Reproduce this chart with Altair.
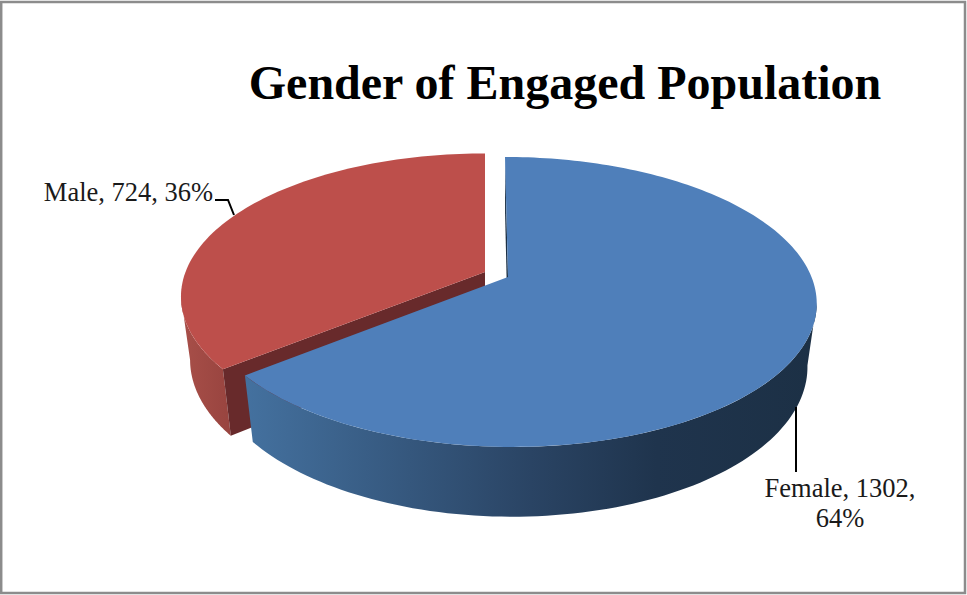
import math
import altair as alt
import pandas as pd

# Slice values and labels
categories = ["Female", "Male"]
counts = [1302, 724]
title_text = "Gender of Engaged Population"

# Colours
blue_top = "#4f7fba"
blue_inner = "#1c3045"
red_top = "#bd4f4b"
red_cut = "#682a2b"
frame_grey = "#8c8c8c"

# Perspective disc parameters (canvas units)
K = 0.172
DEPTH, SHRINK = 62.0, 0.97
FEMALE = {"apex": (508.0, 277.0), "rx": 303.5, "ry": 140.7, "shear": 0.025}
MALE = {"apex": (485.0, 272.0), "rx": 299.5, "ry": 139.0, "shear": 0.0}

total = sum(counts)
share = [c / total for c in counts]
boundary = 360.0 * share[0]


def rim(disc, deg, lower=False):
    """Project a point at a clockwise angle from the top of the disc."""
    a = math.radians(deg)
    px, py = math.sin(a), math.cos(a)
    w = 1 + K * py
    s = SHRINK if lower else 1.0
    dy = -s * disc["ry"] * py / w
    drop = DEPTH / w if lower else 0.0
    return disc["apex"][0] + s * disc["rx"] * px / w + disc["shear"] * dy, disc["apex"][1] + dy + drop


def centre(disc, lower=False):
    return disc["apex"][0], disc["apex"][1] + (DEPTH if lower else 0.0)


def sweep(start, stop, steps=90):
    return [start + (stop - start) * i / steps for i in range(steps + 1)]


def layer_poly(points, **mark):
    pts = list(points) + [points[0]]
    df = pd.DataFrame({"x": [p[0] for p in pts], "y": [p[1] for p in pts], "i": range(len(pts))})
    return alt.Chart(df).mark_line(strokeWidth=0, **mark).encode(
        x=X, y=Y, order=alt.Order("i:Q")
    )


X = alt.X("x:Q", scale=alt.Scale(domain=[0, 967], nice=False, zero=False), axis=None)
Y = alt.Y("y:Q", scale=alt.Scale(domain=[595, 0], nice=False, zero=False), axis=None)

# Male slice: outer wall, cut face, top
male_wall_angles = sweep(boundary, 260)
male_wall = [rim(MALE, d) for d in male_wall_angles] + [
    rim(MALE, d, True) for d in reversed(male_wall_angles)
]
male_cut = [centre(MALE), rim(MALE, boundary), rim(MALE, boundary, True), centre(MALE, True)]
male_top = [centre(MALE)] + [rim(MALE, d) for d in sweep(boundary, 360)]

# Female slice: inner face, outer wall, top
female_inner = [rim(FEMALE, 0), centre(FEMALE), centre(FEMALE, True), rim(FEMALE, 0, True)]
female_wall_angles = sweep(boundary, 100)
female_wall = [rim(FEMALE, d) for d in female_wall_angles] + [
    rim(FEMALE, d, True) for d in reversed(female_wall_angles)
]
female_top = [centre(FEMALE)] + [rim(FEMALE, d) for d in sweep(0, boundary, 180)]

male_grad = alt.Gradient(
    gradient="linear", x1=0, x2=1, y1=0, y2=0,
    stops=[alt.GradientStop(color="#a84f49", offset=0), alt.GradientStop(color="#98443f", offset=1)],
)
female_grad = alt.Gradient(
    gradient="linear", x1=0, x2=1, y1=0, y2=0,
    stops=[
        alt.GradientStop(color="#44719f", offset=0),
        alt.GradientStop(color="#2a4464", offset=0.5),
        alt.GradientStop(color="#1f344d", offset=0.72),
        alt.GradientStop(color="#1c3045", offset=1),
    ],
)

frame = alt.Chart(pd.DataFrame({"x": [1.2], "x2": [965], "y": [2], "y2": [593]})).mark_rect(
    fill="#ffffff", stroke=frame_grey, strokeWidth=2.5
).encode(x=X, x2="x2:Q", y=Y, y2="y2:Q")

# Leader lines from labels to slices
male_leader = alt.Chart(pd.DataFrame({"x": [215, 228, 234], "y": [200, 200, 215], "i": [0, 1, 2]})).mark_line(
    color="#000000", strokeWidth=2
).encode(x=X, y=Y, order=alt.Order("i:Q"))
female_leader = alt.Chart(pd.DataFrame({"x": [796, 796], "y": [407, 472], "i": [0, 1]})).mark_line(
    color="#000000", strokeWidth=2
).encode(x=X, y=Y, order=alt.Order("i:Q"))

label_male = f"{categories[1]}, {counts[1]}, {round(share[1] * 100)}%"
label_female = [f"{categories[0]}, {counts[0]},", f"{round(share[0] * 100)}%"]
labels = pd.DataFrame(
    {
        "x": [128.5, 840, 840],
        "y": [201, 497, 527],
        "t": [label_male] + label_female,
    }
)
label_text = alt.Chart(labels).mark_text(
    font="Liberation Serif", fontSize=26.5, color="#1a1a1a", baseline="alphabetic", align="center"
).encode(x=X, y=Y, text="t:N")

title = alt.Chart(pd.DataFrame({"x": [565], "y": [99], "t": [title_text]})).mark_text(
    font="Liberation Serif", fontSize=48, fontWeight="bold", color="#000000",
    baseline="alphabetic", align="center",
).encode(x=X, y=Y, text="t:N")

chart = alt.layer(
    frame,
    layer_poly(male_wall, fill=male_grad),
    layer_poly(male_cut, fill=red_cut),
    layer_poly(male_top, fill=red_top),
    male_leader,
    layer_poly(female_inner, fill=blue_inner),
    layer_poly(female_wall, fill=female_grad),
    layer_poly(female_top, fill=blue_top),
    female_leader,
    label_text,
    title,
).properties(
    width=967, height=595, padding=0, autosize=alt.AutoSizeParams(type="none"), background="#ffffff"
).configure_view(stroke=None)

chart.save("out.html", embed_options={"renderer": "svg", "actions": False})
